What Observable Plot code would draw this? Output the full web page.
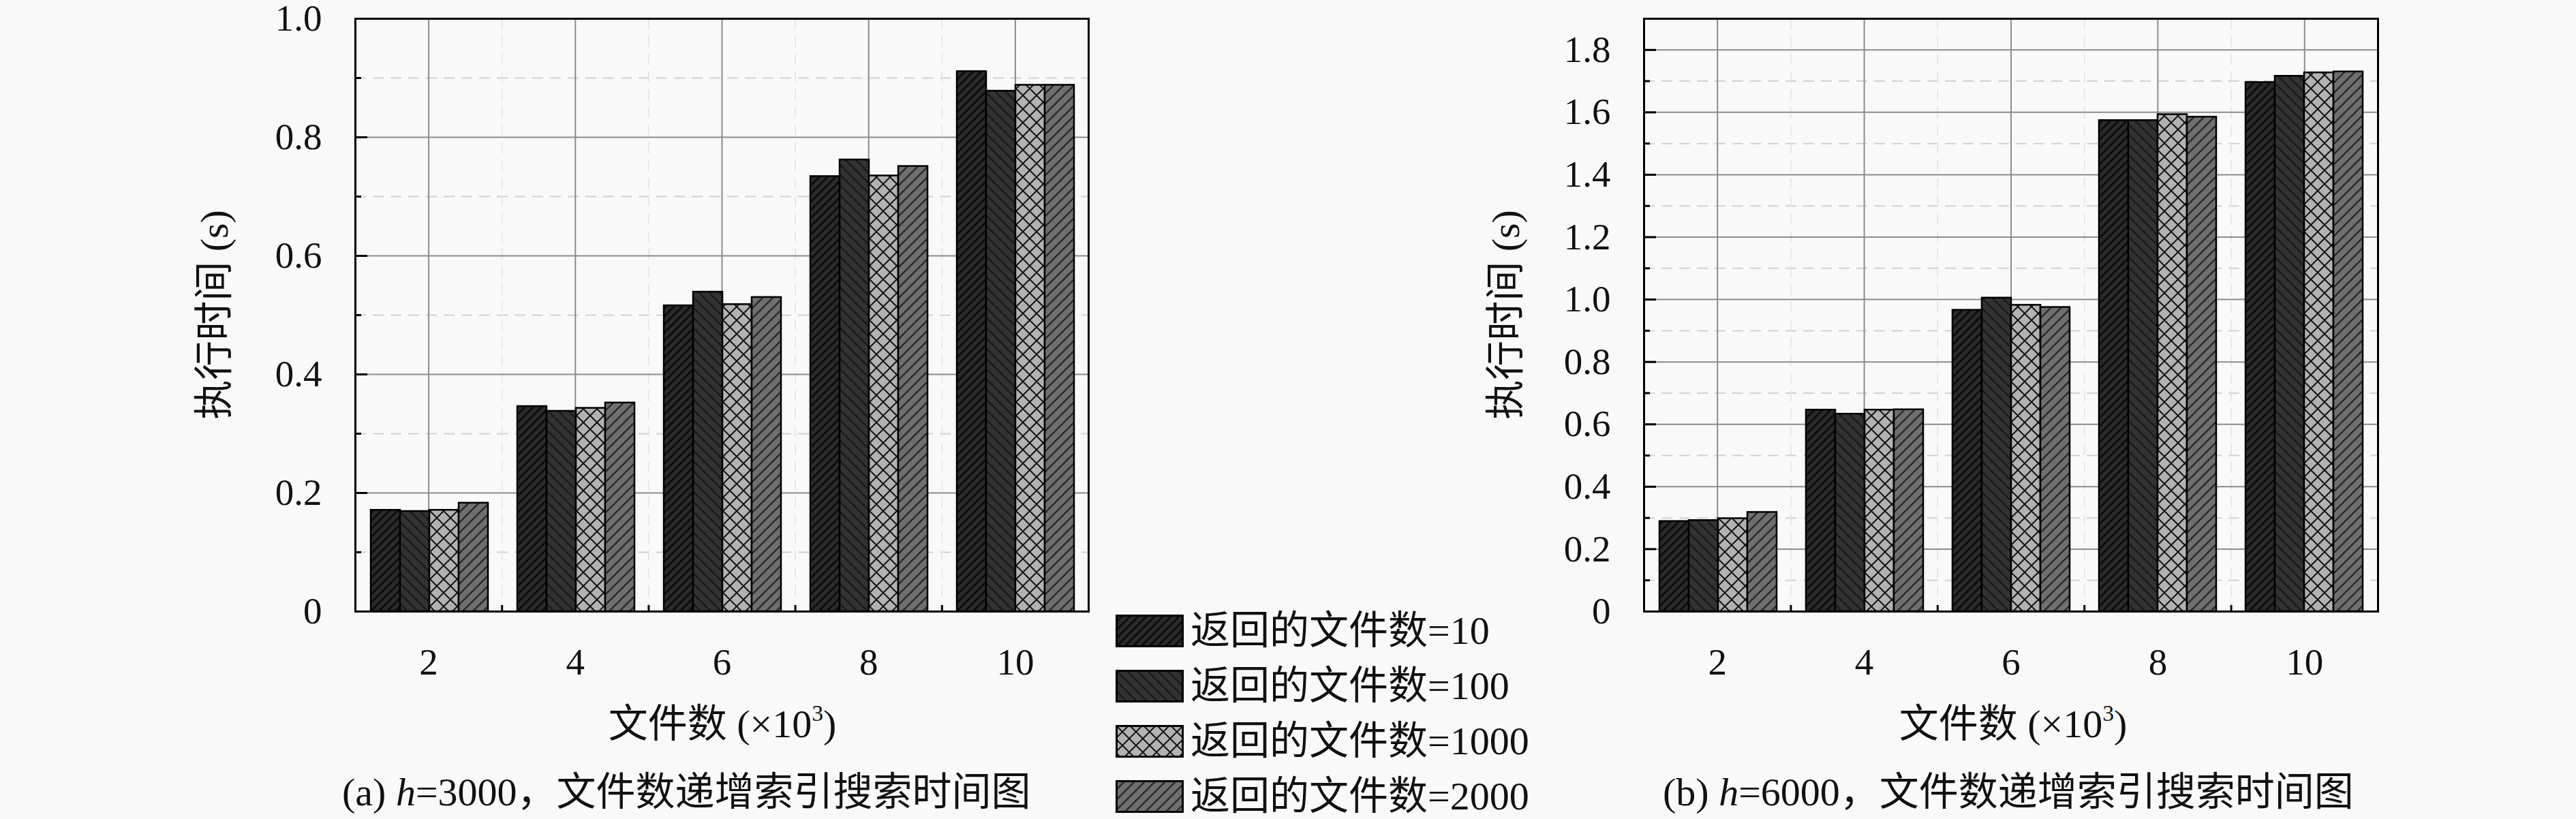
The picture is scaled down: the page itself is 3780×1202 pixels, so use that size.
<!DOCTYPE html>
<html><head><meta charset="utf-8">
<script src="https://cdn.jsdelivr.net/npm/d3@7"></script>
<script src="https://cdn.jsdelivr.net/npm/@observablehq/plot@0.6"></script>
<style>
html,body{margin:0;padding:0;background:#f9f9f9;}
#root{position:relative;width:3780px;height:1202px;overflow:hidden;background:#f9f9f9;font-family:"Liberation Serif","Noto Sans CJK SC",serif;color:#111;}
.layer{position:absolute;top:0;}
.txt{position:absolute;white-space:nowrap;font-size:58px;line-height:1;}
.sup{font-size:0.58em;vertical-align:0.7em;}
.lg{position:absolute;left:1637px;height:50px;display:flex;align-items:center;white-space:nowrap;font-size:58px;line-height:1;}
.lg svg{margin-right:10px;flex:none;}
</style></head><body>
<div id="root">
<svg width="0" height="0" style="position:absolute;left:0;top:0">
  <defs>
    <pattern id="pat10" patternUnits="userSpaceOnUse" width="12" height="12">
      <rect width="12" height="12" fill="#2a2a2a"/>
      <path d="M-3,3 L3,-3 M0,12 L12,0 M9,15 L15,9" stroke="#0c0c0c" stroke-width="3"/>
    </pattern>
    <pattern id="pat100" patternUnits="userSpaceOnUse" width="15" height="15">
      <rect width="15" height="15" fill="#323232"/>
      <path d="M-3,12 L3,18 M0,0 L15,15 M12,-3 L18,3" stroke="#1a1a1a" stroke-width="2.5"/>
    </pattern>
    <pattern id="pat1000" patternUnits="userSpaceOnUse" width="20" height="20">
      <rect width="20" height="20" fill="#b2b2b2"/>
      <path d="M-2,-2 L22,22 M22,-2 L-2,22" stroke="#141414" stroke-width="2"/>
    </pattern>
    <pattern id="pat2000" patternUnits="userSpaceOnUse" width="15" height="15">
      <rect width="15" height="15" fill="#6f6f6f"/>
      <path d="M-3,3 L3,-3 M0,15 L15,0 M12,18 L18,12" stroke="#2a2a2a" stroke-width="2.5"/>
    </pattern>
  </defs>
</svg>
</div>
<script>
// ---------------- data ----------------
const fileCounts = [2, 4, 6, 8, 10];            // 文件数 (×10^3)
const fileMinor = [3, 5, 7, 9];
const seriesNames = ["返回的文件数=10", "返回的文件数=100", "返回的文件数=1000", "返回的文件数=2000"];
const seriesPatterns = ["url(#pat10)", "url(#pat100)", "url(#pat1000)", "url(#pat2000)"];

// (a) h=3000
const a_ret10   = [0.171, 0.346, 0.516, 0.734, 0.911];
const a_ret100  = [0.169, 0.338, 0.539, 0.762, 0.878];
const a_ret1000 = [0.171, 0.343, 0.518, 0.735, 0.888];
const a_ret2000 = [0.183, 0.352, 0.530, 0.751, 0.888];
// (b) h=6000
const b_ret10   = [0.289, 0.646, 0.966, 1.574, 1.696];
const b_ret100  = [0.292, 0.633, 1.005, 1.574, 1.716];
const b_ret1000 = [0.298, 0.646, 0.982, 1.593, 1.727];
const b_ret2000 = [0.318, 0.647, 0.975, 1.585, 1.730];

const a_yDomain = [0, 1.0];
const a_yTicks = [0, 0.2, 0.4, 0.6, 0.8, 1.0];
const a_yMinor = [0.1, 0.3, 0.5, 0.7, 0.9];
const b_yDomain = [0, 1.9];
const b_yTicks = [0, 0.2, 0.4, 0.6, 0.8, 1.0, 1.2, 1.4, 1.6, 1.8];
const b_yMinor = [0.1, 0.3, 0.5, 0.7, 0.9, 1.1, 1.3, 1.5, 1.7];

const yTitle = "执行时间 (s)";
const xTitleMain = "文件数 (×10";
const captionA = ["(a) ", "h", "=3000，文件数递增索引搜索时间图"];
const captionB = ["(b) ", "h", "=6000，文件数递增索引搜索时间图"];

// ---------------- drawing ----------------
const root = document.getElementById("root");
const fontFamily = '"Liberation Serif", "Noto Sans CJK SC", serif';

function rowsFrom(seriesArrays) {
  const rows = [];
  seriesArrays.forEach((vals, si) => {
    vals.forEach((v, ci) => rows.push({files: fileCounts[ci], series: seriesNames[si], value: v}));
  });
  return rows;
}

function panel(cfg) {
  const H = 1010, mt = 27, mb = H - 897;
  const {svgLeft, W, ml, mr} = cfg;
  const innerW = W - ml - mr, innerH = H - mt - mb;
  const yfmt = d => d === 0 ? "0" : d.toFixed(1);
  const baseStyle = {background: "transparent", fontSize: "55px", fontFamily, color: "#111", overflow: "visible"};
  const yMax = cfg.yDomain[1];

  const bg = Plot.plot({
    width: W, height: H, marginLeft: ml, marginRight: mr, marginTop: mt, marginBottom: mb,
    style: baseStyle,
    x: {domain: [1, 11], ticks: fileCounts, tickFormat: d => String(d), tickSize: 0, tickPadding: 53, label: null},
    y: {domain: cfg.yDomain, ticks: cfg.yTicks, tickFormat: yfmt, tickSize: 0, tickPadding: 49, label: null},
    marks: [
      Plot.ruleY(cfg.yMinor, {y: d => d, stroke: "#d2d2d2", strokeWidth: 2, strokeDasharray: "16,10"}),
      Plot.ruleX(fileMinor, {x: d => d, stroke: "#e2e2e2", strokeWidth: 1.5, strokeDasharray: "16,10"}),
      Plot.ruleY(cfg.yTicks.filter(t => t > 0 && t < yMax), {y: d => d, stroke: "#8c8c8c", strokeWidth: 2}),
      Plot.ruleX(fileCounts, {x: d => d, stroke: "#8c8c8c", strokeWidth: 2}),
      Plot.tickY(cfg.yTicks, {y: d => d, insetRight: innerW - 18, stroke: "#000", strokeWidth: 3}),
      Plot.tickY(cfg.yMinor, {y: d => d, insetRight: innerW - 9, stroke: "#000", strokeWidth: 3}),
      Plot.tickX(fileMinor, {x: d => d, insetTop: innerH - 9, stroke: "#000", strokeWidth: 3}),
      Plot.frame({stroke: "#000", strokeWidth: 3})
    ]
  });
  bg.classList.add("layer");
  bg.style.left = svgLeft + "px";
  root.appendChild(bg);

  const rows = rowsFrom(cfg.series);
  const bars = Plot.plot({
    width: W, height: H, marginLeft: ml, marginRight: mr, marginTop: mt, marginBottom: mb,
    style: baseStyle,
    facet: {data: rows, x: "files"},
    fx: {domain: fileCounts, padding: 0, axis: null, label: null},
    x: {domain: seriesNames, paddingInner: 0, paddingOuter: 0.5, axis: null, label: null},
    y: {domain: cfg.yDomain, axis: null, label: null},
    color: {type: "ordinal", domain: seriesNames, range: seriesPatterns},
    marks: [
      Plot.barY(rows, {x: "series", y: "value", fill: "series", stroke: "#000", strokeWidth: 2.5})
    ]
  });
  bars.classList.add("layer");
  bars.style.left = svgLeft + "px";
  root.appendChild(bars);
}

panel({svgLeft: 0, W: 1700, ml: 521, mr: 103, yDomain: a_yDomain, yTicks: a_yTicks, yMinor: a_yMinor,
       series: [a_ret10, a_ret100, a_ret1000, a_ret2000]});
panel({svgLeft: 2100, W: 1500, ml: 312, mr: 111, yDomain: b_yDomain, yTicks: b_yTicks, yMinor: b_yMinor,
       series: [b_ret10, b_ret100, b_ret1000, b_ret2000]});

// ---------------- texts ----------------
function addText(html, css) {
  const d = document.createElement("div");
  d.className = "txt";
  d.innerHTML = html;
  Object.assign(d.style, css);
  root.appendChild(d);
  return d;
}
// y titles
addText(yTitle, {left: "315px", top: "462px", transform: "translate(-50%,-50%) rotate(-90deg)"});
addText(yTitle, {left: "2210px", top: "462px", transform: "translate(-50%,-50%) rotate(-90deg)"});
// x titles
const xt = xTitleMain + '<span class="sup">3</span>)';
addText(xt, {left: "1060px", top: "1061px", transform: "translate(-50%,-50%)"});
addText(xt, {left: "2954px", top: "1061px", transform: "translate(-50%,-50%)"});
// captions
const cap = c => c[0] + '<i>' + c[1] + '</i>' + c[2];
addText(cap(captionA), {left: "502px", top: "1163px", transform: "translateY(-50%)"});
addText(cap(captionB), {left: "2440px", top: "1163px", transform: "translateY(-50%)"});

// legend
const legendRowCenters = [926, 1007, 1088, 1169];
seriesNames.forEach((name, i) => {
  const row = document.createElement("div");
  row.className = "lg";
  row.style.top = (legendRowCenters[i] - 25) + "px";
  const sw = d3.create("svg").attr("width", 100).attr("height", 48);
  sw.append("rect").attr("x", 1.5).attr("y", 1.5).attr("width", 97).attr("height", 45)
    .attr("fill", seriesPatterns[i]).attr("stroke", "#000").attr("stroke-width", 3);
  row.appendChild(sw.node());
  const t = document.createElement("span");
  t.textContent = name;
  row.appendChild(t);
  root.appendChild(row);
});
</script>
</body></html>
